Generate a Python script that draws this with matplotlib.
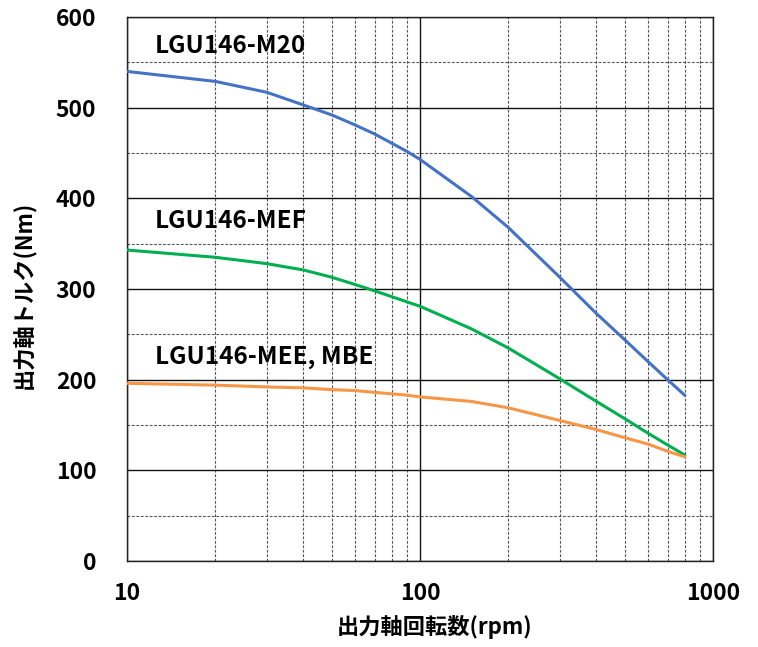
import matplotlib.pyplot as plt
from matplotlib.ticker import FixedLocator, NullFormatter

plt.rcParams['font.family'] = ['Noto Sans CJK JP', 'DejaVu Sans']

#values
speed = [10, 20, 30, 40, 50, 60, 70, 90, 100, 150, 200, 300, 400, 500, 600, 700, 800]
torque_m20 = [540, 529, 517, 503, 492, 481, 471, 452, 443, 402, 368, 313, 273, 244, 220, 200, 183]
torque_mef = [343, 335, 328, 321, 313, 305, 298, 286, 281, 256, 235, 201, 176, 157, 141, 128, 117]
torque_mee = [196, 194, 192, 191, 189, 188, 186, 183, 181, 176, 169, 155, 145, 136, 129, 121, 115]

labels = ['LGU146-M20', 'LGU146-MEF', 'LGU146-MEE, MBE']
label_y = [568, 375, 225]
colors = ['#4472c4', '#00b050', '#f79646']

fig = plt.figure(figsize=(7.58, 6.47), dpi=100)
ax = fig.add_axes([0.1675, 0.1329, 0.7731, 0.8408])

for series, c in zip([torque_m20, torque_mef, torque_mee], colors):
    ax.plot(speed, series, color=c, linewidth=2.2, zorder=3, solid_joinstyle='round')

for text, y in zip(labels, label_y):
    ax.text(12.45, y, text, fontsize=17.5, fontweight='bold', va='center', ha='left', zorder=4)

ax.set_xscale('log')
ax.set_xlim(10, 1000)
ax.set_ylim(0, 600)
ax.set_xticks([10, 100, 1000])
ax.set_xticklabels(['10', '100', '1000'])
ax.xaxis.set_minor_locator(FixedLocator([m * d for d in (10, 100) for m in range(2, 10)]))
ax.xaxis.set_minor_formatter(NullFormatter())
ax.set_yticks(range(0, 601, 100))
ax.yaxis.set_minor_locator(FixedLocator(range(50, 600, 100)))

ax.grid(which='major', color='#111111', linewidth=1.0, linestyle='-')
ax.grid(which='minor', color='#555555', linewidth=0.8, linestyle=(0, (2.5, 1.5)))
ax.tick_params(which='both', length=0, labelsize=16.5)
ax.tick_params(axis='y', pad=22)
ax.tick_params(axis='x', pad=15)
for lab in ax.get_xticklabels() + ax.get_yticklabels():
    lab.set_fontweight('bold')
for s in ax.spines.values():
    s.set_color('#222222')
    s.set_linewidth(1.0)

ax.set_xlabel('出力軸回転数(rpm)', fontsize=16, fontweight='bold')
ax.set_ylabel('出力軸トルク(Nm)', fontsize=16, fontweight='bold')
ax.xaxis.set_label_coords(0.525, -0.100)
ax.yaxis.set_label_coords(-0.155, 0.489)

fig.savefig('out.png', dpi=100)
